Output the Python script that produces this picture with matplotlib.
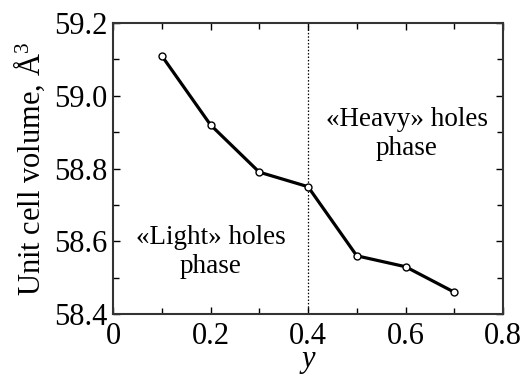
import matplotlib
matplotlib.use("Agg")
import matplotlib.pyplot as plt
from matplotlib.ticker import MultipleLocator

# Hole concentration y and unit cell volume (Å^3)
y_conc = [0.1, 0.2, 0.3, 0.4, 0.5, 0.6, 0.7]
volume = [59.11, 58.92, 58.79, 58.75, 58.56, 58.53, 58.46]
boundary = 0.4

x_ticks = [0, 0.2, 0.4, 0.6, 0.8]
x_tick_labels = ["0", "0.2", "0.4", "0.6", "0.8"]
y_ticks = [58.4, 58.6, 58.8, 59.0, 59.2]
y_tick_labels = ["58.4", "58.6", "58.8", "59.0", "59.2"]

plt.rcParams["font.family"] = ["Liberation Serif", "DejaVu Serif"]
plt.rcParams["mathtext.fontset"] = "custom"
plt.rcParams["mathtext.rm"] = "Liberation Serif"
plt.rcParams["mathtext.it"] = "Liberation Serif:italic"

fig = plt.figure(figsize=(5.23, 3.76), dpi=100)
ax = fig.add_axes([113 / 523, 1 - 314 / 376, 390 / 523, 291 / 376])

ax.axvline(boundary, color="black", lw=0.9, ls=(0, (1.2, 1.5)))
ax.plot(y_conc, volume, color="black", lw=2.3, marker="o", ms=5,
        mfc="white", mec="black", mew=1.0, zorder=3)

ax.set_xlim(0, 0.8)
ax.set_ylim(58.4, 59.2)
ax.set_xticks(x_ticks)
ax.set_xticklabels(x_tick_labels)
ax.set_yticks(y_ticks)
ax.set_yticklabels(y_tick_labels)
ax.xaxis.set_minor_locator(MultipleLocator(0.1))
ax.yaxis.set_minor_locator(MultipleLocator(0.1))
ax.tick_params(which="both", direction="in", top=True, right=True,
               labelsize=22)
ax.tick_params(axis="x", pad=6)
ax.tick_params(axis="y", pad=4)
ax.tick_params(which="major", length=5, width=1.0)
ax.tick_params(which="minor", length=4, width=1.0)
for sp in ax.spines.values():
    sp.set_linewidth(1.5)
    sp.set_color("#333333")

ax.set_xlabel("$y$", fontsize=22, labelpad=-3)
ax.set_ylabel("Unit cell volume, Å$^3$", fontsize=22, labelpad=5)

ax.text(0.603, 58.895, "«Heavy» holes\nphase", ha="center", va="center",
        fontsize=19.5, linespacing=1.2)
ax.text(0.201, 58.57, "«Light» holes\nphase", ha="center", va="center",
        fontsize=19.5, linespacing=1.2)

fig.savefig("out.png", dpi=100)
